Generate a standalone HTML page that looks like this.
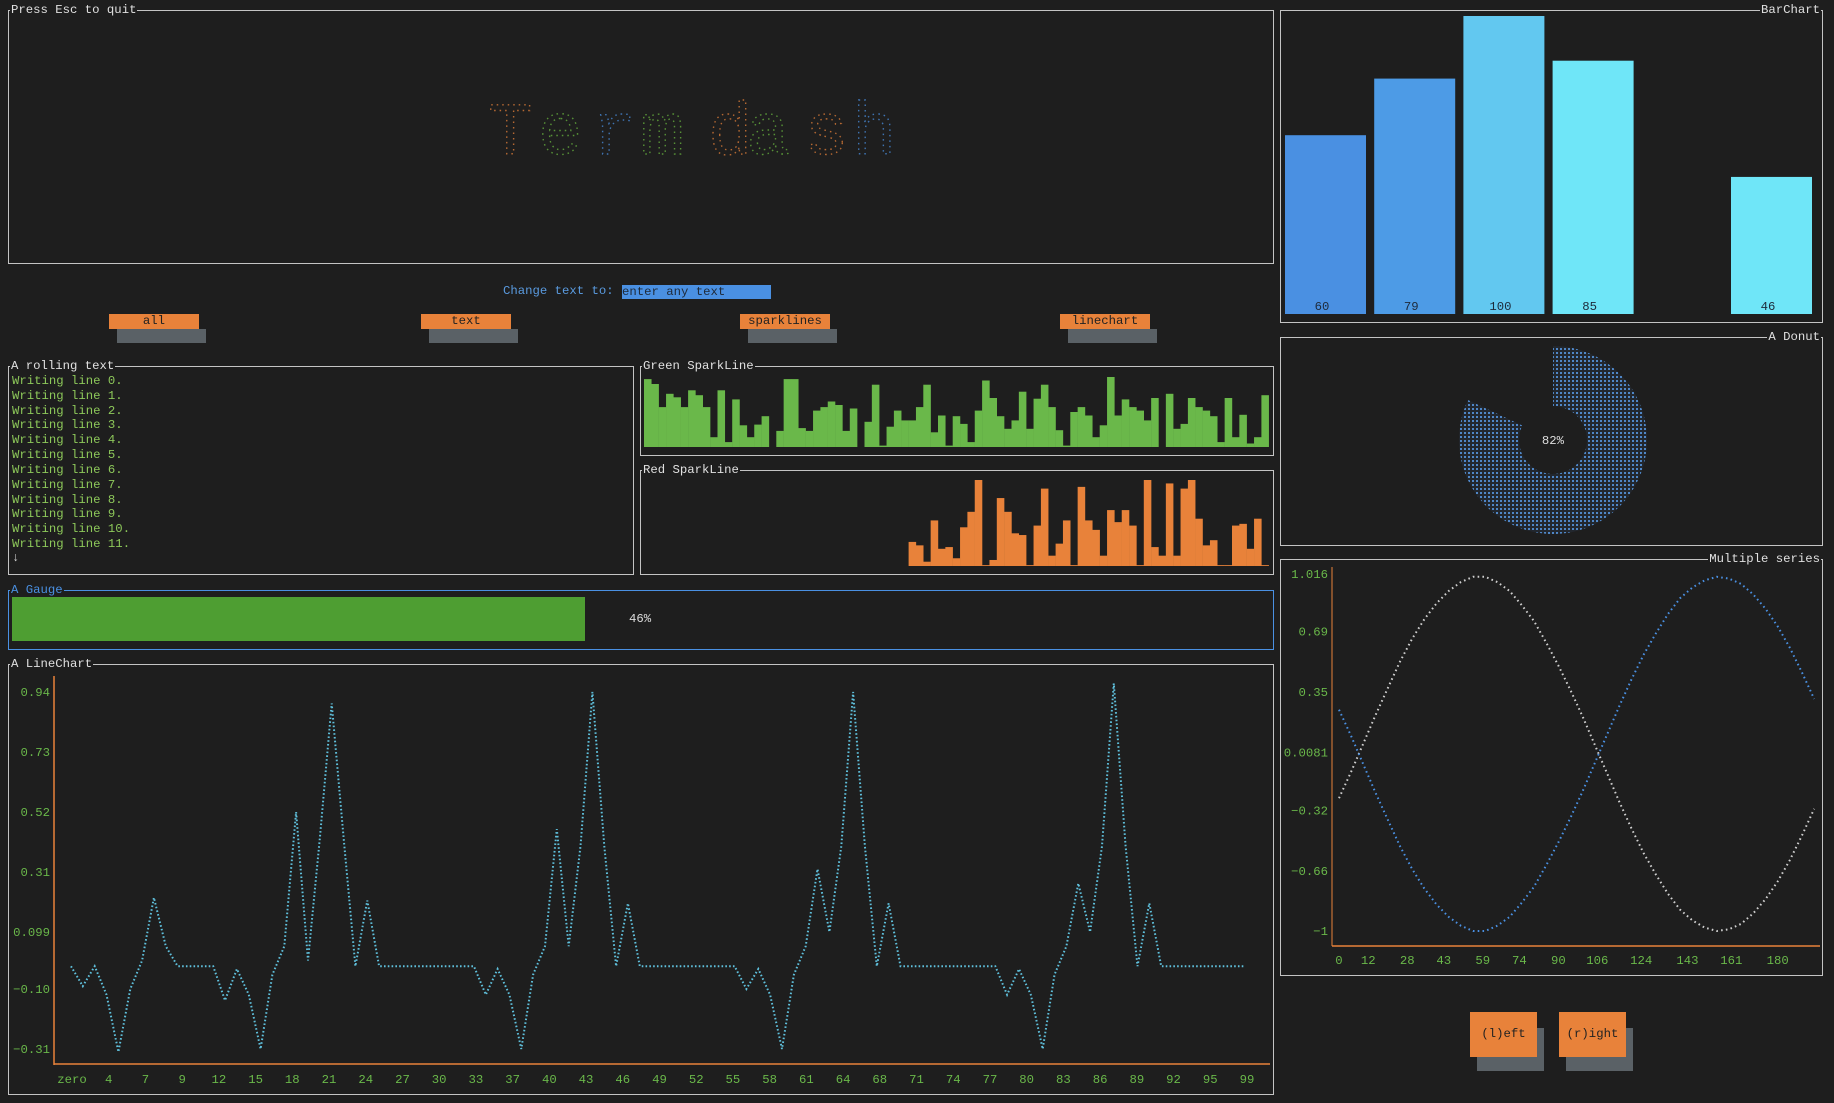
<!DOCTYPE html>
<html><head><meta charset="utf-8">
<style>
html,body{margin:0;padding:0;background:#1e1e1e;}
body{width:1834px;height:1103px;position:relative;overflow:hidden;font-family:"Liberation Mono",monospace;font-size:12.3px;color:#ddd;}
.box{position:absolute;border:1.5px solid #c4c4c4;box-sizing:border-box;}
.title{position:absolute;top:-9px;background:#1e1e1e;color:#e0e0e0;line-height:16px;padding:0 1px;white-space:pre;}
.btn{position:absolute;background:#e8823a;color:#222;text-align:center;box-sizing:border-box;}
.shadow{position:absolute;background:#5a6166;}
.line{position:absolute;left:3px;color:#8dc85a;white-space:pre;}
svg text{font-family:"Liberation Mono",monospace;}
</style></head><body>

<div class="box" style="left:8px;top:10px;width:1266px;height:254px;">
  <div class="title" style="left:1px;">Press Esc to quit</div>
</div>
<svg style="position:absolute;left:0;top:0" width="1280" height="270" opacity="0.75">
  <g font-size="74" font-family="Liberation Sans, sans-serif" fill="none" stroke-width="1.4" stroke-dasharray="1.5 4">
    <text x="488" y="154" stroke="#e8823a">T</text>
    <text x="538" y="154" stroke="#6ab840">e</text>
    <text x="592" y="154" stroke="#4a90e2">r</text>
    <text x="640" y="154" stroke="#6ab840">m</text>
    <text x="708" y="154" stroke="#e8823a">d</text>
    <text x="746" y="154" stroke="#6ab840">a</text>
    <text x="804" y="154" stroke="#e8823a">s</text>
    <text x="852" y="154" stroke="#4a90e2">h</text>
  </g>
</svg>

<div style="position:absolute;left:503px;top:284px;color:#5a9be0;line-height:15px;">Change text to:</div>
<div style="position:absolute;left:622px;top:285px;width:149px;height:14px;background:#4a90e2;color:#1e2a3a;line-height:14px;">enter any text</div>

<div class="shadow" style="left:117px;top:329px;width:89px;height:14px;"></div>
<div class="btn" style="left:109px;top:314px;width:90px;height:15px;line-height:15px;">all</div>
<div class="shadow" style="left:429px;top:329px;width:89px;height:14px;"></div>
<div class="btn" style="left:421px;top:314px;width:90px;height:15px;line-height:15px;">text</div>
<div class="shadow" style="left:748px;top:329px;width:89px;height:14px;"></div>
<div class="btn" style="left:740px;top:314px;width:90px;height:15px;line-height:15px;">sparklines</div>
<div class="shadow" style="left:1068px;top:329px;width:89px;height:14px;"></div>
<div class="btn" style="left:1060px;top:314px;width:90px;height:15px;line-height:15px;">linechart</div>

<div class="box" style="left:8px;top:366px;width:626px;height:209px;">
  <div class="title" style="left:1px;">A rolling text</div>
  <div class="line" style="top:7px">Writing line 0.</div>
  <div class="line" style="top:22px">Writing line 1.</div>
  <div class="line" style="top:37px">Writing line 2.</div>
  <div class="line" style="top:51px">Writing line 3.</div>
  <div class="line" style="top:66px">Writing line 4.</div>
  <div class="line" style="top:81px">Writing line 5.</div>
  <div class="line" style="top:96px">Writing line 6.</div>
  <div class="line" style="top:111px">Writing line 7.</div>
  <div class="line" style="top:126px">Writing line 8.</div>
  <div class="line" style="top:140px">Writing line 9.</div>
  <div class="line" style="top:155px">Writing line 10.</div>
  <div class="line" style="top:170px">Writing line 11.</div>
  <div class="line" style="top:184px;color:#ddd">↓</div>
</div>

<div class="box" style="left:640px;top:366px;width:634px;height:90px;">
  <div class="title" style="left:1px;">Green SparkLine</div>
</div>
<div class="box" style="left:640px;top:470px;width:634px;height:105px;">
  <div class="title" style="left:1px;">Red SparkLine</div>
</div>
<svg id="spark" style="position:absolute;left:0;top:0" width="1280" height="580"></svg>

<div class="box" style="left:8px;top:590px;width:1266px;height:60px;border-color:#4a90e2;">
  <div class="title" style="left:1px;color:#4a90e2">A Gauge</div>
</div>
<div style="position:absolute;left:12px;top:597px;width:573px;height:44px;background:#4e9e32;"></div>
<div style="position:absolute;left:629px;top:612px;color:#ddd;">46%</div>

<div class="box" style="left:8px;top:664px;width:1266px;height:431px;">
  <div class="title" style="left:1px;">A LineChart</div>
</div>
<svg id="lc" style="position:absolute;left:0;top:0" width="1280" height="1100"></svg>

<div class="box" style="left:1280px;top:10px;width:543px;height:313px;">
  <div class="title" style="right:1px;">BarChart</div>
</div>
<svg id="bc" style="position:absolute;left:0;top:0" width="1834" height="330"></svg>

<div class="box" style="left:1280px;top:337px;width:543px;height:209px;">
  <div class="title" style="right:1px;">A Donut</div>
</div>
<svg id="dn" style="position:absolute;left:0;top:0" width="1834" height="560">
  <defs><pattern id="dots" width="4" height="4" patternUnits="userSpaceOnUse"><rect width="4" height="4" fill="#22272e"/><rect width="2" height="2" fill="#4f86c6"/></pattern></defs>
</svg>

<div class="box" style="left:1280px;top:559px;width:543px;height:417px;">
  <div class="title" style="right:1px;">Multiple series</div>
</div>
<svg id="ms" style="position:absolute;left:0;top:0" width="1834" height="980"></svg>

<div class="shadow" style="left:1477px;top:1028px;width:67px;height:43px;"></div>
<div class="btn" style="left:1470px;top:1012px;width:67px;height:45px;line-height:45px;">(l)eft</div>
<div class="shadow" style="left:1566px;top:1028px;width:67px;height:43px;"></div>
<div class="btn" style="left:1559px;top:1012px;width:67px;height:45px;line-height:45px;">(r)ight</div>

<script>
const NS = 'http://www.w3.org/2000/svg';
function mk(parent, tag, attrs) {
  const e = document.createElementNS(NS, tag);
  for (const k in attrs) e.setAttribute(k, attrs[k]);
  parent.appendChild(e);
  return e;
}

// ---------- sparkline data ----------
const greenValues = [97,90,57,76,71,57,81,74,57,14,81,7,68,31,14,32,44,0,23,97,97,27,23,52,57,65,60,23,55,0,36,89,2,29,52,38,38,57,89,21,45,2,44,33,7,52,95,70,44,26,38,79,26,69,89,57,24,2,50,57,45,14,31,100,45,68,57,52,38,70,0,76,26,33,70,57,52,44,7,70,14,46,5,14,74];
const redValues = [28,24,5,53,20,22,9,45,63,100,1,7,79,63,38,36,1,47,90,12,26,53,1,92,53,42,12,65,51,65,47,1,100,22,12,96,12,90,100,55,24,30,1,1,47,49,20,55,1];

const sp = document.getElementById('spark');
const colW = 7.35, sparkLeft = 644, totalCols = 85;
function sparkY(v, bottom, h) { return bottom - v / 100 * h; }
greenValues.forEach((v, i) => {
  const y = sparkY(v, 447, 70);
  const r = mk(sp, 'rect', {x: sparkLeft + i * colW, y: y, width: colW + 0.2, height: 447 - y, fill: '#6ab84a'});
  
  
});
redValues.forEach((v, i) => {
  const y = sparkY(v, 566, 86);
  const r = mk(sp, 'rect', {x: sparkLeft + (totalCols - redValues.length + i) * colW, y: y, width: colW + 0.2, height: 566 - y, fill: '#e8823a'});
  
  
});

// ---------- line chart ----------
const lcValues = [-0.02,-0.09,-0.02,-0.12,-0.32,-0.1,0.0,0.22,0.05,-0.02,
  -0.02,-0.02,-0.02,-0.14,-0.03,-0.12,-0.31,-0.05,0.05,0.52,
  0.0,0.43,0.9,0.43,-0.02,0.21,-0.02,-0.02,-0.02,-0.02,
  -0.02,-0.02,-0.02,-0.02,-0.02,-0.12,-0.03,-0.12,-0.31,-0.05,
  0.05,0.46,0.05,0.4,0.94,0.4,-0.02,0.2,-0.02,-0.02,
  -0.02,-0.02,-0.02,-0.02,-0.02,-0.02,-0.02,-0.1,-0.03,-0.12,
  -0.31,-0.05,0.05,0.32,0.1,0.4,0.94,0.4,-0.02,0.2,
  -0.02,-0.02,-0.02,-0.02,-0.02,-0.02,-0.02,-0.02,-0.02,-0.12,
  -0.03,-0.12,-0.31,-0.05,0.05,0.27,0.1,0.4,0.97,0.4,
  -0.02,0.2,-0.02,-0.02,-0.02,-0.02,-0.02,-0.02,-0.02,-0.02];
const lcYTicks = [0.94,0.73,0.52,0.31,0.099,-0.10,-0.31];
const lcYTickLabels = ['0.94','0.73','0.52','0.31','0.099','−0.10','−0.31'];
const lcXTickLabels = ['zero','4','7','9','12','15','18','21','24','27','30','33','37','40','43','46','49','52','55','58','61','64','68','71','74','77','80','83','86','89','92','95','99'];

const lc = document.getElementById('lc');
const lcX = i => 71 + i * 11.85;
const lcY = v => 692 + (0.94 - v) * 285.6;
let a = mk(lc, 'line', {x1: 54, y1: 676, x2: 54, y2: 1065, stroke: '#e8823a', 'stroke-width': 1.5});
 
a = mk(lc, 'line', {x1: 54, y1: 1064, x2: 1270, y2: 1064, stroke: '#e8823a', 'stroke-width': 1.5});
 
lcYTicks.forEach((t, i) => {
  const tx = mk(lc, 'text', {x: 50, y: lcY(t) + 4, 'text-anchor': 'end', fill: '#6ab84a', 'font-size': 12.3});
  tx.textContent = lcYTickLabels[i];
   
});
lcXTickLabels.forEach((lab, k) => {
  const tx = mk(lc, 'text', {x: 72 + k * (1247 - 72) / (lcXTickLabels.length - 1), y: 1083, 'text-anchor': 'middle', fill: '#6ab84a', 'font-size': 12.3});
  tx.textContent = lab;
   
});
let pts = lcValues.map((v, i) => lcX(i).toFixed(1) + ',' + lcY(v).toFixed(1)).join(' ');
let pl = mk(lc, 'polyline', {points: pts, fill: 'none', stroke: '#5fc0dc', 'stroke-width': 2, 'stroke-dasharray': '1.6 2.2'});
 

// ---------- bar chart ----------
const barValues = [60,79,100,85,0,46];
const barLabels = ['60','79','100','85','','46'];
const barColors = ['#4a90e2','#4d9be6','#62c8f0','#6fe6f8','#6fe6f8','#6fe6f8'];
const bc = document.getElementById('bc');
const barY = v => 314 - v * 2.98;
barValues.forEach((v, i) => {
  const x = 1285 + i * 89.2;
  const r = mk(bc, 'rect', {x: x, y: barY(v), width: 81, height: 314 - barY(v), fill: barColors[i]});
   
  const t = mk(bc, 'text', {x: x + 37, y: 310, 'text-anchor': 'middle', fill: '#1e2a3a', 'font-size': 12.3});
  t.textContent = barLabels[i];
   
});

// ---------- donut ----------
const donutPercent = [82];
const dn = document.getElementById('dn');
(function () {
  const cx = 1553, cy = 440, R = 94, r = 34;
  const ang = donutPercent[0] / 100 * 2 * Math.PI;
  const p = (rad, t) => [cx + rad * Math.sin(t), cy - rad * Math.cos(t)];
  const [x1, y1] = p(R, 0), [x2, y2] = p(R, ang), [x3, y3] = p(r, ang), [x4, y4] = p(r, 0);
  const large = ang > Math.PI ? 1 : 0;
  const d = `M${x1},${y1} A${R},${R} 0 ${large} 1 ${x2},${y2} L${x3},${y3} A${r},${r} 0 ${large} 0 ${x4},${y4} Z`;
  const path = mk(dn, 'path', {d: d, fill: 'url(#dots)'});
   
  const t = mk(dn, 'text', {x: cx, y: cy + 4, 'text-anchor': 'middle', fill: '#ddd', 'font-size': 12.3});
  t.textContent = donutPercent[0] + '%';
   
})();

// ---------- multiple series ----------
const msX = [0,5,10,15,20,25,30,35,40,45,50,55,60,65,70,75,80,85,90,95,100,105,110,115,120,125,130,135,140,145,150,155,160,165,170,175,180,185,190,195];
const msWhite = [-0.25,-0.10,0.06,0.22,0.37,0.52,0.65,0.76,0.85,0.92,0.97,1.00,1.00,0.97,0.92,0.84,0.75,0.63,0.50,0.36,0.21,0.05,-0.11,-0.27,-0.42,-0.56,-0.68,-0.79,-0.88,-0.94,-0.98,-1.00,-0.99,-0.96,-0.90,-0.82,-0.72,-0.60,-0.46,-0.31];
const msBlue = [0.25,0.10,-0.06,-0.22,-0.37,-0.52,-0.65,-0.76,-0.85,-0.92,-0.97,-1.00,-1.00,-0.97,-0.92,-0.84,-0.75,-0.63,-0.50,-0.36,-0.21,-0.05,0.11,0.27,0.42,0.56,0.68,0.79,0.88,0.94,0.98,1.00,0.99,0.96,0.90,0.82,0.72,0.60,0.46,0.31];
const msYTicks = [1.016,0.69,0.35,0.0081,-0.32,-0.66,-1];
const msYTickLabels = ['1.016','0.69','0.35','0.0081','−0.32','−0.66','−1'];
const msXTicks = [0,12,28,43,59,74,90,106,124,143,161,180];
const ms = document.getElementById('ms');
const msx = v => 1339 + v * 2.437;
const msy = v => 574 + (1.016 - v) * 177.1;
a = mk(ms, 'line', {x1: 1332, y1: 567, x2: 1332, y2: 946, stroke: '#e8823a', 'stroke-width': 1});
 
a = mk(ms, 'line', {x1: 1332, y1: 946, x2: 1820, y2: 946, stroke: '#e8823a', 'stroke-width': 1.5});
 
msYTicks.forEach((t, i) => {
  const tx = mk(ms, 'text', {x: 1328, y: msy(t) + 4, 'text-anchor': 'end', fill: '#6ab84a', 'font-size': 12.3});
  tx.textContent = msYTickLabels[i];
   
});
msXTicks.forEach(t => {
  const tx = mk(ms, 'text', {x: msx(t), y: 964, 'text-anchor': 'middle', fill: '#6ab84a', 'font-size': 12.3});
  tx.textContent = String(t);
   
});
pl = mk(ms, 'polyline', {points: msX.map((x, i) => msx(x).toFixed(1) + ',' + msy(msWhite[i]).toFixed(1)).join(' '), fill: 'none', stroke: '#d0d0d0', 'stroke-width': 2, 'stroke-dasharray': '1.6 3.2'});
 
pl = mk(ms, 'polyline', {points: msX.map((x, i) => msx(x).toFixed(1) + ',' + msy(msBlue[i]).toFixed(1)).join(' '), fill: 'none', stroke: '#4a90e2', 'stroke-width': 2, 'stroke-dasharray': '1.6 3.2'});
 
</script>
</body></html>
